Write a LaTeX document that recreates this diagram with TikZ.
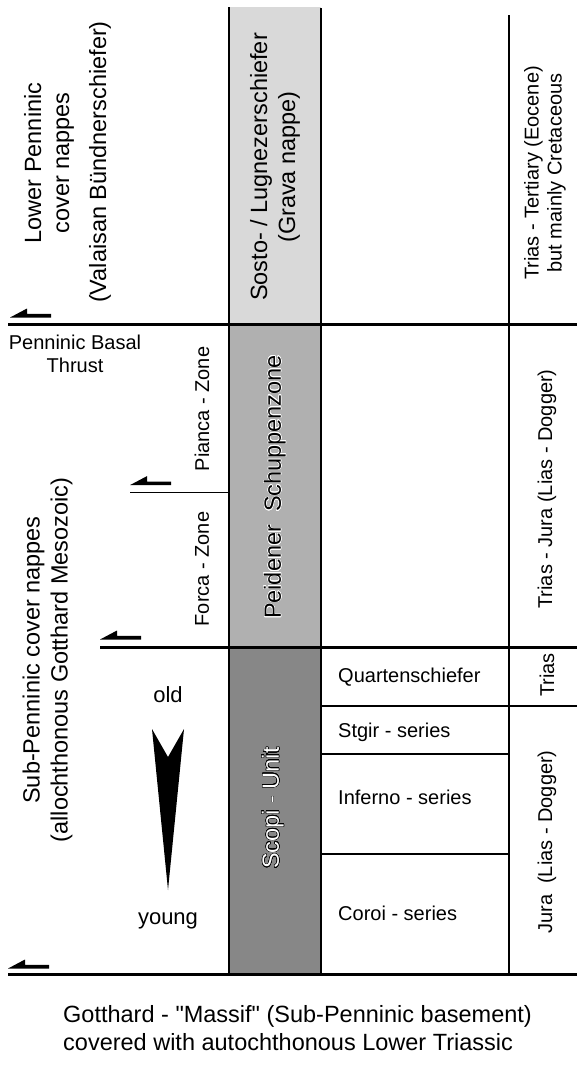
\documentclass[tikz,border=0pt]{standalone}
\usepackage{fontspec}
\setmainfont{Liberation Sans}
\usepackage{contour}
\contourlength{0.4pt}
\contournumber{24}
\definecolor{sostogray}{HTML}{D9D9D9}
\definecolor{peidgray}{HTML}{B0B0B0}
\definecolor{scopigray}{HTML}{878787}
\tikzset{
  thrust/.pic={\fill (0,1.8) -- (17,-7.2) -- (17,-1.8) -- (41,-1.8) -- (41,1.8) -- cycle;}
}
\begin{document}
\begin{tikzpicture}[x=1pt,y=-1pt,
  big/.style={font=\fontsize{23.5}{28}\selectfont, inner sep=0pt, align=center},
  small/.style={font=\fontsize{20}{23}\selectfont, inner sep=0pt, align=center},
  mid/.style={font=\fontsize{22}{26}\selectfont, inner sep=0pt},
  vert/.style={rotate=90},
  thickline/.style={line width=3pt},
  vline/.style={line width=2pt},
  thinline/.style={line width=1.4pt}]
\useasboundingbox (0,0) rectangle (577,1079);

% column fills
\fill[sostogray] (229,7) rectangle (321,324);
\fill[peidgray] (229,324) rectangle (321,647);
\fill[scopigray] (229,647) rectangle (321,974);

% vertical lines
\draw[vline] (229,7) -- (229,974);
\draw[vline] (321,8) -- (321,974);
\draw[vline] (509,15) -- (509,974);

% horizontal lines
\draw[thickline] (8,324) -- (577,324);
\draw[thickline] (100,647) -- (577,647);
\draw[thickline] (8,974) -- (577,974);
\draw[thinline] (130,492.5) -- (229,492.5);
\draw[vline] (321,706) -- (577,706);
\draw[thinline] (321,754) -- (509,754);
\draw[thinline] (321,854) -- (509,854);

% thrust arrows
\pic at (10,315.7) {thrust};
\pic at (130,483.3) {thrust};
\pic at (100,637.7) {thrust};
\pic at (8,966.7) {thrust};

% old-young arrow
\fill (152,729) -- (168,757) -- (184,729) -- (168,890) -- cycle;

% texts
\node[big,vert] (lpn) at (49,163) {Lower Penninic\\cover nappes};
\node[big,vert] (val) at (100,162) {(Valaisan Bündnerschiefer)};
\node[big,vert] (sosto) at (275,167) {Sosto- / Lugnezerschiefer\\(Grava nappe)};
\node[small,vert] (tt) at (545,173) {Trias - Tertiary (Eocene)\\but mainly Cretaceous};

\node[small] (pbt) at (75,354) {Penninic Basal\\Thrust};
\node[small,vert] (pianca) at (202,409) {Pianca - Zone};
\node[small,vert] (forca) at (202,569) {Forca - Zone};
\node[big,vert] (peid) at (275,487) {\contour{white}{Peidener\ \ Schuppenzone}};
\node[small,vert] (tj) at (547,489) {Trias - Jura (Lias - Dogger)};

\node[big,vert] (spn) at (47.5,660) {Sub-Penninic cover nappes\\(allochthonous Gotthard Mesozoic)};
\node[mid] (old) at (168,695) {old};
\node[mid] (young) at (168,921) {young};
\node[big,vert] (scopi) at (273,808) {\color{white}\contour{black}{Scopi - Unit}};

\node[small,anchor=base west] (quart) at (338,682) {Quartenschiefer};
\node[small,anchor=base west] (stgir) at (338,737) {Stgir - series};
\node[small,anchor=base west] (inferno) at (338,804) {Inferno - series};
\node[small,anchor=base west] (coroi) at (338,920) {Coroi - series};
\node[small,vert] (trias) at (547,675) {Trias};
\node[small,vert] (jura) at (547,842) {Jura\ \ (Lias - Dogger)};

\node[big,anchor=base west] (g1) at (63,1022) {Gotthard - \textquotedbl Massif\textquotedbl{} (Sub-Penninic basement)};
\node[big,anchor=base west] (g2) at (63,1050) {covered with autochthonous Lower Triassic};
\end{tikzpicture}
\end{document}
